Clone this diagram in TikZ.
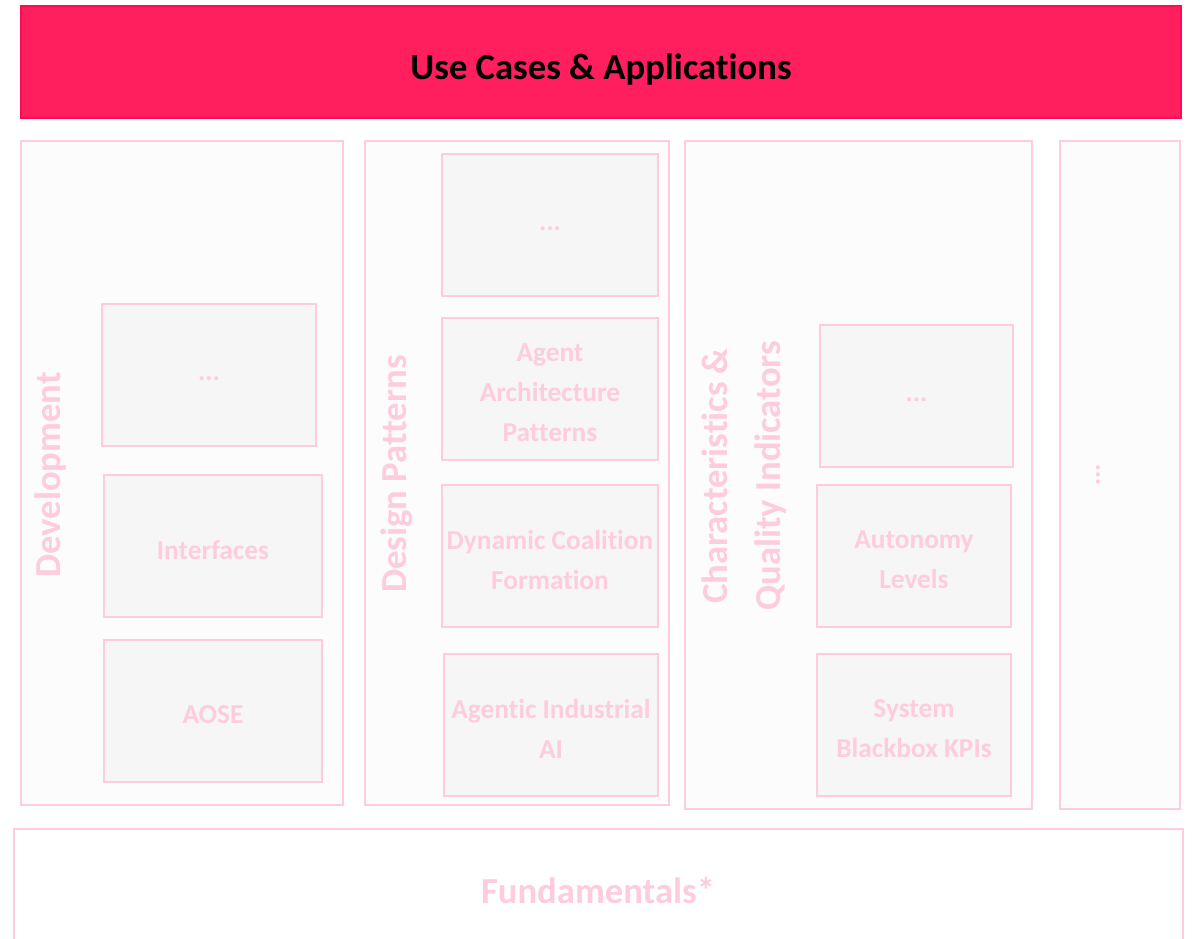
\documentclass[tikz,border=0pt]{standalone}
\usepackage{fontspec}
\setmainfont{Carlito}[Ligatures=NoCommon]
\definecolor{banner}{HTML}{FF1E5E}
\definecolor{bannerline}{HTML}{FF0A50}
\definecolor{pinkline}{HTML}{FFCCDD}
\definecolor{pinktext}{HTML}{FFCCDD}
\definecolor{contfill}{HTML}{FCFCFC}
\definecolor{boxfill}{HTML}{F6F6F6}
\tikzset{
  pxbox/.style={rectangle, inner sep=0pt, outer sep=0pt, line width=1.5pt},
  container/.style={pxbox, draw=pinkline, fill=contfill},
  itembox/.style={pxbox, draw=pinkline, fill=boxfill},
  itemtext/.style={text=pinktext, font=\bfseries\fontsize{20.5}{30}\selectfont, align=center, inner sep=0pt, yshift=-3pt},
  sidelabel/.style={text=pinktext, font=\bfseries\fontsize{27.5}{40}\selectfont, align=center, rotate=90, inner sep=0pt},
}
% #1 name, #2..#5 corners in px, #6 box style, #7 text
\newcommand{\pbox}[7]{\node[#6, minimum width={(#4-#2)*0.75pt}, minimum height={(#5-#3)*0.75pt}] (#1) at ({(#2+#4)/2},{(#3+#5)/2}) {};}
\newcommand{\ibox}[6]{\pbox{#1}{#2}{#3}{#4}{#5}{itembox}{}\node[itemtext] (#1-text) at (#1) {#6};}
\begin{document}
\begin{tikzpicture}[x=0.75pt,y=-0.75pt]
\useasboundingbox (0,0) rectangle (1193,939);
\clip (0,0) rectangle (1193,939);
% banner
\pbox{usecases}{21}{6}{1181}{118}{pxbox, draw=bannerline, line width=1pt, fill=banner}{}
\node[font=\bfseries\fontsize{27.5}{34}\selectfont, text=black, inner sep=0pt, yshift=-6pt] (usecases-text) at (usecases) {Use Cases \& Applications};
% containers
\pbox{dev}{21}{141}{343}{805}{container}{}
\pbox{dp}{365}{141}{669}{805}{container}{}
\pbox{cq}{685}{141}{1032}{809}{container}{}
\pbox{more}{1060}{141}{1180}{809}{container}{}
\pbox{fund}{14}{829}{1183}{960}{container, fill=white}{}
\node[text=pinktext, font=\bfseries\fontsize{27.5}{34}\selectfont, inner sep=0pt] (fundtext) at (598,891) {Fundamentals*};
% side labels
\node[sidelabel] (devlabel) at (51,475) {Development};
\node[sidelabel] (dplabel) at (397,474) {Design Patterns};
\node[sidelabel] (cqlabel) at (744,476) {Characteristics \&\\Quality Indicators};
\node[text=pinktext, font=\bfseries\fontsize{20.5}{30}\selectfont, rotate=90, inner sep=0pt] (moredots) at (1098,475) {...};
% development items
\ibox{devmore}{102}{304}{316}{446}{...}
\ibox{interfaces}{104}{475}{322}{617}{Interfaces}
\ibox{aose}{104}{640}{322}{782}{AOSE}
% design pattern items
\ibox{dpmore}{442}{154}{658}{296}{...}
\ibox{aap}{442}{318}{658}{460}{Agent\\Architecture\\Patterns}
\ibox{dcf}{442}{485}{658}{627}{Dynamic Coalition\\Formation}
\ibox{aia}{444}{654}{658}{796}{Agentic Industrial\\AI}
% characteristics items
\ibox{cqmore}{820}{325}{1013}{467}{...}
\ibox{autonomy}{817}{485}{1011}{627}{Autonomy\\Levels}
\ibox{kpis}{817}{654}{1011}{796}{System\\Blackbox KPIs}
\end{tikzpicture}
\end{document}
